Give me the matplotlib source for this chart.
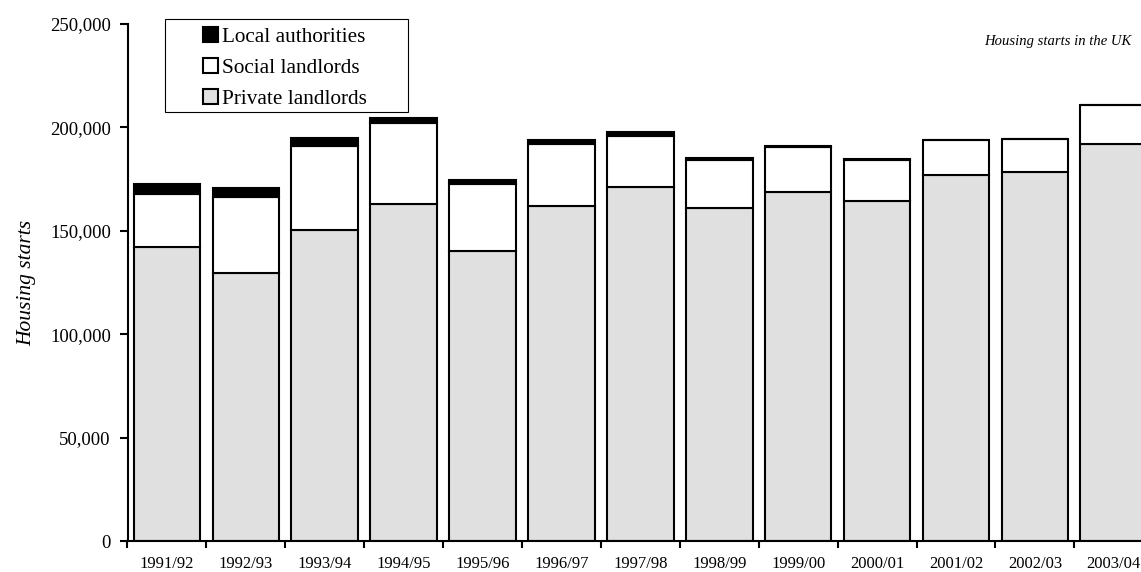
import numpy as np
import matplotlib.pyplot as plt
from matplotlib.patches import Rectangle
from matplotlib.ticker import FuncFormatter, FixedLocator

plt.rcParams['font.family'] = ['Liberation Serif', 'DejaVu Serif']

years = ["1991/92", "1992/93", "1993/94", "1994/95", "1995/96", "1996/97", "1997/98",
         "1998/99", "1999/00", "2000/01", "2001/02", "2002/03", "2003/04"]
private = [142300, 129500, 150400, 162800, 140400, 162200, 171300,
           161200, 168900, 164400, 176900, 178300, 191800]
social = [25400, 37000, 40800, 39200, 32100, 29700, 24600,
          23200, 21600, 19800, 16800, 16000, 19000]
local = [4800, 4100, 3600, 2700, 2100, 2100, 1800,
         700, 700, 500, 400, 300, 200]

W, H = 1141, 572
fig = plt.figure(figsize=(W / 100, H / 100), dpi=100)
ax = fig.add_axes([127.5 / W, 31 / H, 1025.7 / W, 517 / H])

x = np.arange(len(years))
w = 0.845
lw = 1.5
b_priv = ax.bar(x, private, w, color='#e0e0e0', edgecolor='black', linewidth=lw,
                label='Private landlords')
b_soc = ax.bar(x, social, w, bottom=private, color='white', edgecolor='black',
               linewidth=lw, label='Social landlords')
bottom2 = np.array(private) + np.array(social)
b_loc = ax.bar(x, local, w, bottom=bottom2, color='black', edgecolor='black',
               linewidth=lw, label='Local authorities')

ax.set_xlim(-0.5, len(years) - 0.5)
ax.set_ylim(0, 250000)
ax.set_yticks(np.arange(0, 250001, 50000))
ax.yaxis.set_major_formatter(FuncFormatter(lambda v, p: f"{int(v):,}"))

# tick marks between categories, labels at centres
ax.xaxis.set_major_locator(FixedLocator(np.arange(-0.5, len(years), 1.0)))
ax.xaxis.set_minor_locator(FixedLocator(x))
ax.set_xticklabels([])
ax.set_xticklabels(years, minor=True, fontsize=12)
ax.tick_params(axis='x', which='major', direction='out', length=5, width=1.5)
ax.tick_params(axis='x', which='minor', length=0, pad=11)
ax.tick_params(axis='y', direction='out', length=6, width=1.5, labelsize=13.5, pad=6)

for s in ['top', 'right']:
    ax.spines[s].set_visible(False)
for s in ['left', 'bottom']:
    ax.spines[s].set_linewidth(1.5)

ax.set_ylabel('Housing starts', fontsize=15.5, style='italic', labelpad=10)

# legend box is wider than its entries, so draw the frame separately
fig.patches.append(Rectangle((165 / W, (H - 112) / H), 243 / W, 93 / H,
                             transform=fig.transFigure, facecolor='white',
                             edgecolor='black', linewidth=0.8, zorder=5))
leg = fig.legend(handles=[b_loc, b_soc, b_priv], loc='upper left',
                 bbox_to_anchor=(203 / W, (H - 27) / H),
                 bbox_transform=fig.transFigure, fontsize=15.3, frameon=False,
                 handlelength=0.7, handleheight=0.7, handletextpad=0.2,
                 borderpad=0, labelspacing=0.52, borderaxespad=0)
leg.set_zorder(6)

fig.text(1131 / W, (H - 42) / H, 'Housing starts in the UK', ha='right',
         va='center', fontsize=10.5, style='italic')

fig.savefig('out.png', dpi=100)
